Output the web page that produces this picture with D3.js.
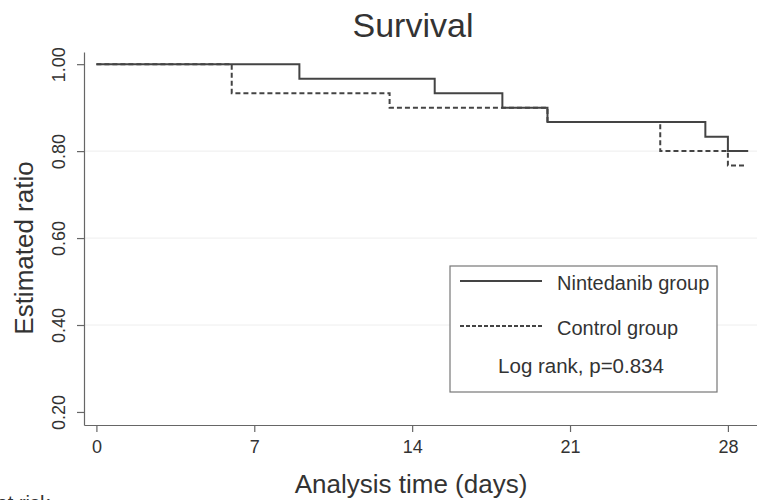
<!DOCTYPE html>
<html>
<head>
<meta charset="utf-8">
<script src="https://cdn.jsdelivr.net/npm/d3@7"></script>
<style>
  html, body { margin: 0; padding: 0; background: #fff; }
  svg { display: block; font-family: "Liberation Sans", Arial, sans-serif; }
  .axis path, .axis line { stroke: #666; stroke-width: 1.2; }
  .axis text { fill: #333; font-size: 18px; }
  .grid line { stroke: #eee; stroke-width: 1; }
  .km { fill: none; stroke: #444; stroke-width: 2; }
</style>
</head>
<body>
<div id="chart"></div>
<script>
  // Kaplan-Meier steps (time in days, estimated ratio after each drop)
  const nintedanibTimes = [0, 9, 15, 18, 20, 27, 28];
  const nintedanibSurv = [1.0, 0.9667, 0.9333, 0.9, 0.8667, 0.8333, 0.8];
  const nintedanibEnd = 28.9;

  const controlTimes = [0, 6, 13, 20, 25, 28];
  const controlSurv = [1.0, 0.9333, 0.9, 0.8667, 0.8, 0.7667];
  const controlEnd = 28.8;

  const xTicks = [0, 7, 14, 21, 28];
  const yTicks = [0.2, 0.4, 0.6, 0.8, 1.0];
  const gridTicks = [0.4, 0.6, 0.8];

  const width = 757;
  const height = 500;

  const svg = d3
    .select('#chart')
    .append('svg')
    .attr('width', width)
    .attr('height', height);

  const x = d3.scaleLinear().domain([-0.55, 29.29]).range([84, 757]);
  const y = d3.scaleLinear().domain([0.17, 1.028]).range([425, 52]);

  // Light horizontal grid
  svg
    .append('g')
    .attr('class', 'grid')
    .selectAll('line')
    .data(gridTicks)
    .enter()
    .append('line')
    .attr('x1', x.range()[0])
    .attr('x2', x.range()[1])
    .attr('y1', (d) => y(d))
    .attr('y2', (d) => y(d));

  // Axes
  svg
    .append('g')
    .attr('class', 'axis x')
    .attr('transform', `translate(0,${y.range()[0]})`)
    .call(d3.axisBottom(x).tickValues(xTicks).tickSize(7).tickSizeOuter(0).tickPadding(8))
    .call((g) => g.selectAll('text').attr('dy', '0.71em'));

  svg
    .append('g')
    .attr('class', 'axis y')
    .attr('transform', `translate(${x.range()[0]},0)`)
    .call(d3.axisLeft(y).tickValues(yTicks).tickFormat(d3.format('.2f')).tickSize(7).tickSizeOuter(0))
    .call((g) =>
      g
        .selectAll('text')
        .attr('x', null)
        .attr('dy', null)
        .attr('text-anchor', 'middle')
        .attr('transform', 'translate(-19,0) rotate(-90)')
    );

  // Step curves
  function steps(times, surv, end) {
    const pts = times.map((t, i) => [t, surv[i]]);
    pts.push([end, surv[surv.length - 1]]);
    return pts;
  }

  const line = d3
    .line()
    .x((d) => x(d[0]))
    .y((d) => y(d[1]))
    .curve(d3.curveStepAfter);

  svg
    .append('path')
    .attr('class', 'km')
    .attr('stroke-dasharray', '5,3')
    .attr('d', line(steps(controlTimes, controlSurv, controlEnd)));

  svg
    .append('path')
    .attr('class', 'km')
    .attr('d', line(steps(nintedanibTimes, nintedanibSurv, nintedanibEnd)));

  // Titles
  svg
    .append('text')
    .attr('x', 413)
    .attr('y', 37)
    .attr('text-anchor', 'middle')
    .attr('fill', '#333')
    .style('font-size', '34px')
    .text('Survival');

  svg
    .append('text')
    .attr('x', 411)
    .attr('y', 493)
    .attr('text-anchor', 'middle')
    .attr('fill', '#333')
    .style('font-size', '26px')
    .text('Analysis time (days)');

  svg
    .append('text')
    .attr('transform', 'translate(33,248) rotate(-90)')
    .attr('text-anchor', 'middle')
    .attr('fill', '#333')
    .style('font-size', '26px')
    .text('Estimated ratio');

  // Caption cut off at the bottom edge, as in the source
  svg
    .append('text')
    .attr('x', 50)
    .attr('y', 510)
    .attr('text-anchor', 'end')
    .attr('fill', '#333')
    .style('font-size', '20px')
    .text('Number at risk');

  // Legend
  const legend = svg.append('g').attr('transform', 'translate(450,266)');
  legend
    .append('rect')
    .attr('width', 267)
    .attr('height', 126)
    .attr('fill', '#fff')
    .attr('stroke', '#777')
    .attr('stroke-width', 1.2);

  const legendItems = [
    { label: 'Nintedanib group', dash: null, y: 15 },
    { label: 'Control group', dash: '4,2', y: 60 },
  ];

  legendItems.forEach((d) => {
    legend
      .append('line')
      .attr('x1', 10)
      .attr('x2', 92)
      .attr('y1', d.y)
      .attr('y2', d.y)
      .attr('stroke', '#444')
      .attr('stroke-width', 2)
      .attr('stroke-dasharray', d.dash);
    legend
      .append('text')
      .attr('x', 107)
      .attr('y', d.y + 9)
      .attr('fill', '#333')
      .style('font-size', '20px')
      .text(d.label);
  });

  legend
    .append('text')
    .attr('x', 131)
    .attr('y', 107)
    .attr('text-anchor', 'middle')
    .attr('fill', '#333')
    .style('font-size', '20.5px')
    .text('Log rank, p=0.834');
</script>
</body>
</html>
